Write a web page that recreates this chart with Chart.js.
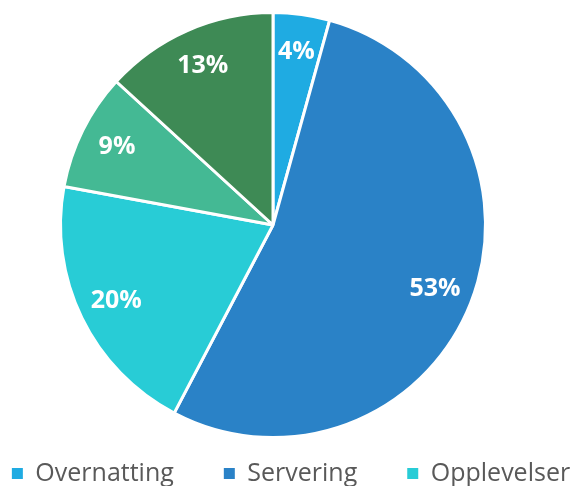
<!DOCTYPE html>
<html>
<head>
<meta charset="utf-8">
<script src="https://cdn.jsdelivr.net/npm/chart.js@4.4.0/dist/chart.umd.min.js"></script>
<style>
  html, body { margin: 0; padding: 0; background: #fff; }
  #wrap { width: 576px; height: 486px; }
</style>
</head>
<body>
<div id="wrap"><canvas id="pieChart"></canvas></div>
<script>
const categories = ['Overnatting', 'Servering', 'Opplevelser', 'Transport', 'Varehandel'];
const shares = [4.3, 53.4, 20.2, 8.9, 13.2];
const sliceColors = ['#1fabe2', '#2a82c7', '#28ccd6', '#44b994', '#3e8a55'];
const legendCount = 3;

// draws the percent labels inside each slice
const percentLabels = {
    id: 'percentLabels',
    afterDatasetsDraw(chart) {
        const ctx = chart.ctx;
        const total = shares.reduce((a, b) => a + b, 0);
        ctx.save();
        ctx.fillStyle = '#ffffff';
        ctx.font = 'bold 25px "Open Sans", sans-serif';
        ctx.textAlign = 'center';
        ctx.textBaseline = 'middle';
        chart.getDatasetMeta(0).data.forEach((arc, i) => {
            const p = arc.getProps(['x', 'y', 'startAngle', 'endAngle', 'outerRadius']);
            const mid = (p.startAngle + p.endAngle) / 2;
            const r = p.outerRadius * 0.82;
            const label = Math.round(shares[i] / total * 100) + '%';
            ctx.fillText(label, p.x + Math.cos(mid) * r, p.y + Math.sin(mid) * r);
        });
        ctx.restore();
    }
};

// keep the legend on one row, low on the page, and the pie a bit to the left
const layoutTweak = {
    id: 'layoutTweak',
    beforeInit(chart) {
        const legend = chart.legend;
        const fit = legend.fit;
        legend.fit = function() {
            const w = this.maxWidth;
            this.maxWidth = 2000;
            fit.call(this);
            this.maxWidth = w;
            this.width = w;
            this.height -= 10;
        };
        const draw = legend.draw;
        legend.draw = function() {
            this.left -= 47;
            this.right += 53;
            draw.call(this);
            this.left += 47;
            this.right -= 53;
        };
    },
    afterLayout(chart) {
        const a = chart.chartArea;
        a.bottom += 28;
        a.right -= 30;
        a.width = a.right - a.left;
        a.height = a.bottom - a.top;
    }
};

const defaultLabels = Chart.overrides.pie.plugins.legend.labels.generateLabels;

const pieCtx = document.getElementById('pieChart').getContext('2d');
const pieChart = new Chart(pieCtx, {
    type: 'pie',
    data: {
        labels: categories,
        datasets: [{
            data: shares,
            backgroundColor: sliceColors,
            borderColor: '#ffffff',
            borderWidth: 3
        }]
    },
    options: {
        responsive: true,
        maintainAspectRatio: false,
        animation: false,
        layout: {
            padding: { top: 11, bottom: 0, left: 0, right: 0 }
        },
        plugins: {
            tooltip: { enabled: false },
            legend: {
                position: 'bottom',
                labels: {
                    generateLabels: (chart) => defaultLabels(chart).map(item => {
                        item.lineWidth = 0;
                        return item;
                    }),
                    filter: (item) => item.index < legendCount,
                    boxWidth: 11,
                    boxHeight: 11,
                    padding: 50,
                    color: '#595959',
                    font: { family: '"Open Sans", sans-serif', size: 25 }
                }
            }
        }
    },
    plugins: [percentLabels, layoutTweak]
});
</script>
</body>
</html>
